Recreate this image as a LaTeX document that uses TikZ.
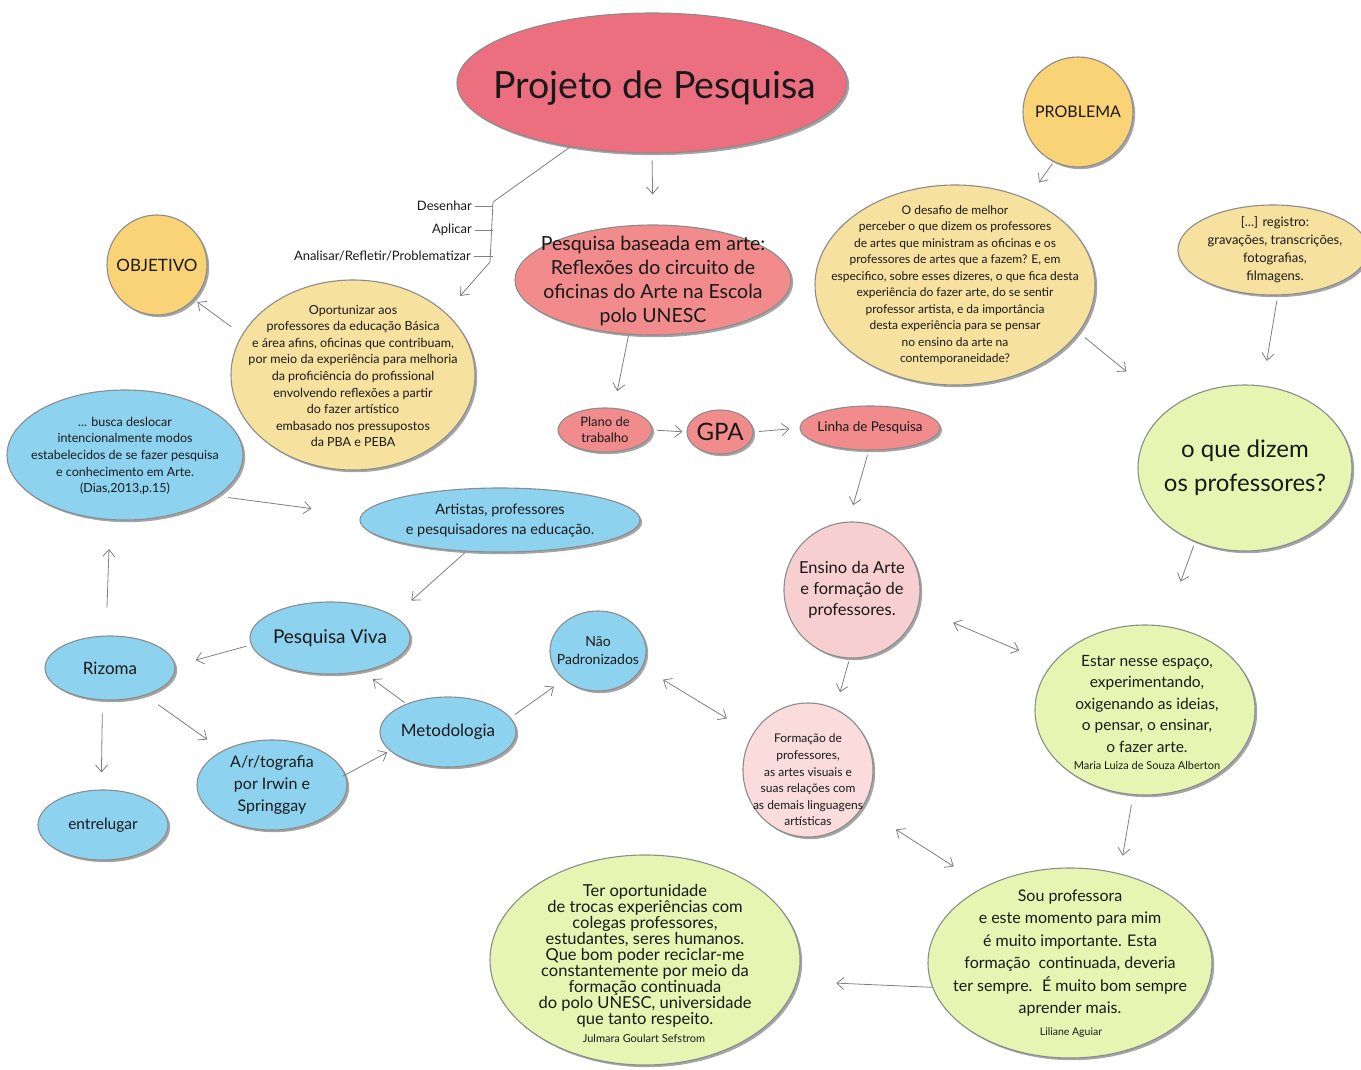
\documentclass[tikz,border=0pt]{standalone}
\usepackage{fontspec}
\setmainfont{Lato}
\usetikzlibrary{arrows.meta,shadows,shapes.geometric}
\definecolor{cProj}{HTML}{EC6F80}
\definecolor{cPink}{HTML}{F28B8C}
\definecolor{cLPink}{HTML}{F8CFD0}
\definecolor{cLLPink}{HTML}{FADCDC}
\definecolor{cYel}{HTML}{F9D376}
\definecolor{cLYel}{HTML}{F7E19F}
\definecolor{cBlue}{HTML}{8DD3F0}
\definecolor{cGreen}{HTML}{E6F6B2}
\newcommand\fsz[2]{\fontsize{#1}{#2}\selectfont}
\begin{document}
\begin{tikzpicture}[x=1pt,y=-1pt,
  bub/.style={ellipse, draw=black!45, line width=1.1pt, inner sep=0pt,
    drop shadow={shadow xshift=2.2pt, shadow yshift=-2.2pt, fill=black!50, opacity=.7}},
  txt/.style={align=center, inner sep=0pt, text=black!90},
  lab/.style={inner sep=0pt, text=black!90, font=\fsz{13}{15}},
  ln/.style={draw=black!50, line width=0.8pt},
  arr/.style={ln, -{Straight Barb[length=7pt,width=12pt]}},
  darr/.style={ln, {Straight Barb[length=7pt,width=12pt]}-{Straight Barb[length=7pt,width=12pt]}}]
\useasboundingbox[fill=white] (0,0) rectangle (1361,1070);

% ---- bubbles
\node[bub, fill=cProj, minimum width=390pt, minimum height=140pt] (proj) at (652,83) {};
\node[txt, font=\fsz{37.5}{40}] (projt) at (655,88) {Projeto de Pesquisa};

\node[bub, fill=cYel, minimum width=110pt, minimum height=110pt] (prob) at (1078,112) {};
\node[txt, font=\fsz{16}{18}] (probt) at (prob) {PROBLEMA};

\node[bub, fill=cLYel, minimum width=280pt, minimum height=200pt] (ptx) at (955,285) {};
\node[txt, font=\fsz{12}{16.5}] (ptxt) at (955,285) {O desafio de melhor\\
perceber o que dizem os professores\\
de artes que ministram as oficinas e os\\
professores de artes que a fazem? E, em\\
especifico, sobre esses dizeres, o que fica desta\\
experiência do fazer arte, do se sentir\\
professor artista, e da importância\\
desta experiência para se pensar\\
no ensino da arte na\\
contemporaneidade?};

\node[bub, fill=cLYel, minimum width=190pt, minimum height=90pt] (reg) at (1273,250) {};
\node[txt, font=\fsz{13}{18}] (regt) at (1275,250) {[...] registro:\\gravações, transcrições,\\fotografias,\\filmagens.};

\node[bub, fill=cYel, minimum width=100pt, minimum height=100pt] (obj) at (157,265) {};
\node[txt, font=\fsz{17}{20}] (objt) at (obj) {OBJETIVO};

\node[bub, fill=cLYel, minimum width=244pt, minimum height=190pt] (opo) at (353,375) {};
\node[txt, font=\fsz{12.5}{16.6}] (opot) at (353,376) {Oportunizar aos\\
professores da educação Básica\\
e área afins, oficinas que contribuam,\\
por meio da experiência para melhoria\\
da proficiência do profissional\\
envolvendo reflexões a partir\\
do fazer artístico\\
embasado nos pressupostos\\
da PBA e PEBA};

\node[bub, fill=cPink, minimum width=276pt, minimum height=110pt] (pba) at (653,280) {};
\node[txt, font=\fsz{19.5}{24}] (pbat) at (653,281) {Pesquisa baseada em arte:\\Reflexões do circuito de\\oficinas do Arte na Escola\\polo UNESC};

\node[bub, fill=cPink, minimum width=94pt, minimum height=44pt] (plano) at (605,430) {};
\node[txt, font=\fsz{13}{16}] (planot) at (plano) {Plano de\\trabalho};

\node[bub, fill=cPink, minimum width=66pt, minimum height=44pt] (gpa) at (720,432) {};
\node[txt, font=\fsz{24}{26}] (gpat) at (gpa) {GPA};

\node[bub, fill=cPink, minimum width=140pt, minimum height=44pt] (linha) at (870,428) {};
\node[txt, font=\fsz{13.5}{16}] (linhat) at (linha) {Linha de Pesquisa};

\node[bub, fill=cGreen, minimum width=214pt, minimum height=166pt] (diz) at (1245,468) {};
\node[txt, font=\fsz{24}{34}] (dizt) at (diz) {o que dizem\\os professores?};

\node[bub, fill=cLPink, minimum width=136pt, minimum height=136pt] (ens) at (852,590) {};
\node[txt, font=\fsz{16.5}{21}] (enst) at (ens) {Ensino da Arte\\e formação de\\professores.};

\node[bub, fill=cBlue, minimum width=236pt, minimum height=130pt] (bus) at (125,455) {};
\node[txt, font=\fsz{12.5}{16.6}] (bust) at (125,456) {... busca deslocar\\intencionalmente modos\\estabelecidos de se fazer pesquisa\\e conhecimento em Arte.\\(Dias,2013,p.15)};

\node[bub, fill=cBlue, minimum width=280pt, minimum height=64pt] (art) at (500,520) {};
\node[txt, font=\fsz{14.5}{20}] (artt) at (500,520) {Artistas, professores\\e pesquisadores na educação.};

\node[bub, fill=cBlue, minimum width=160pt, minimum height=72pt] (viva) at (330,638) {};
\node[txt, font=\fsz{19}{22}] (vivat) at (viva) {Pesquisa Viva};

\node[bub, fill=cBlue, minimum width=130pt, minimum height=64pt] (riz) at (110,668) {};
\node[txt, font=\fsz{17}{20}] (rizt) at (riz) {Rizoma};

\node[bub, fill=cBlue, minimum width=96pt, minimum height=80pt] (nao) at (598,651) {};
\node[txt, font=\fsz{14}{18}] (naot) at (nao) {Não\\Padronizados};

\node[bub, fill=cBlue, minimum width=136pt, minimum height=70pt] (met) at (448,732) {};
\node[txt, font=\fsz{17}{20}] (mett) at (met) {Metodologia};

\node[bub, fill=cBlue, minimum width=150pt, minimum height=90pt] (artog) at (272,785) {};
\node[txt, font=\fsz{16}{22}] (artogt) at (artog) {A/r/tografia\\por Irwin e\\Springgay};

\node[bub, fill=cBlue, minimum width=130pt, minimum height=70pt] (ent) at (103,825) {};
\node[txt, font=\fsz{15.5}{18}] (entt) at (ent) {entrelugar};

\node[bub, fill=cLLPink, minimum width=130pt, minimum height=134pt] (form) at (808,770) {};
\node[txt, font=\fsz{12}{16.6}] (formt) at (808,780) {Formação de\\professores,\\as artes visuais e\\suas relações com\\as demais linguagens\\artísticas};

\node[bub, fill=cGreen, minimum width=220pt, minimum height=170pt] (est) at (1145,710) {};
\node[txt, font=\fsz{15.5}{21.5}] (estt) at (1147,704) {Estar nesse espaço,\\experimentando,\\oxigenando as ideias,\\o pensar, o ensinar,\\o fazer arte.};
\node[txt, font=\fsz{11}{13}] (esta) at (1147,765) {Maria Luiza de Souza Alberton};

\node[bub, fill=cGreen, minimum width=284pt, minimum height=190pt] (sou) at (1070,963) {};
\node[txt, font=\fsz{16}{22.5}] (sout) at (1070,953) {Sou professora\\e este momento para mim\\é muito importante. Esta\\formação \ continuada, deveria\\ter sempre. \ É muito bom sempre\\aprender mais.};
\node[txt, font=\fsz{10.5}{12}] (soua) at (1071,1033) {Liliane Aguiar};

\node[bub, fill=cGreen, minimum width=310pt, minimum height=210pt] (ter) at (645,960) {};
\node[txt, font=\fsz{16.5}{16}] (tert) at (645,956) {Ter oportunidade\\de trocas experiências com\\colegas professores,\\estudantes, seres humanos.\\Que bom poder reciclar-me\\constantemente por meio da\\formação continuada\\do polo UNESC, universidade\\que tanto respeito.};
\node[txt, font=\fsz{11}{13}] (tera) at (644,1038) {Julmara Goulart Sefstrom};

% ---- bracket labels
\node[lab, anchor=east] (des) at (472,206) {Desenhar};
\node[lab, anchor=east] (apl) at (472,230) {Aplicar};
\node[lab, anchor=east] (ana) at (471,256) {Analisar/Refletir/Problematizar};
\coordinate (brtop) at (493,202);
\coordinate (brbot) at (490,262);
\draw[ln] (proj.-142) -- (brtop) -- (brbot);
\draw[ln] ([xshift=3pt]des.east) -- (des.east -| brtop);
\draw[ln] ([xshift=3pt]apl.east) -- (apl.east -| brtop);
\draw[ln] ([xshift=3pt]ana.east) -- (ana.east -| brtop);
\draw[arr, shorten >=22pt] (brbot) -- (opo.34);

% ---- connectors
\draw[arr, shorten <=7pt, shorten >=30pt] (proj.south) -- (pba.north);
\draw[arr, shorten <=2pt, shorten >=20pt] (prob.-116) -- (ptx.50);
\draw[arr, shorten <=8pt, shorten >=57pt] (ptx.-21) -- (diz.141);
\draw[arr, shorten <=5pt, shorten >=25pt] (reg.-84) -- (diz.78);
\draw[arr, shorten <=13pt, shorten >=4pt] (opo.160) -- (obj.-43);
\draw[arr, shorten <=1pt, shorten >=17pt] (pba.-114) -- (plano.68);
\draw[arr, shorten <=4pt, shorten >=4pt] (plano.east) -- (gpa.west);
\draw[arr, shorten <=5pt, shorten >=10pt] (gpa.east) -- (linha.west);
\draw[arr, shorten <=5pt, shorten >=17pt] (linha.-93) -- (ens.93);
\draw[arr, shorten <=4pt, shorten >=47pt] (diz.-124) -- (est.77);
\draw[darr, shorten <=38pt, shorten >=35pt] (ens.-15) -- (est.154);
\draw[arr, shorten <=3pt, shorten >=17pt] (ens.-92) -- (form.66);
\draw[arr, shorten <=10pt, shorten >=18pt] (est.-98) -- (sou.61);
\draw[darr, shorten <=40pt, shorten >=37pt] (form.-35) -- (sou.138);
\draw[arr, shorten <=0pt, shorten >=39pt] (sou.-170) -- (ter.-8);
\draw[arr, shorten <=11pt, shorten >=50pt] (bus.-24) -- (art.178);
\draw[arr, shorten <=2pt, shorten >=23pt] (art.-137) -- (viva.19);
\draw[arr, shorten <=5pt, shorten >=21pt] (viva.-175) -- (riz.2);
\draw[arr, shorten <=28pt, shorten >=29pt] (riz.97) -- (bus.-103);
\draw[arr, shorten <=13pt, shorten >=17pt] (riz.-103) -- (ent.93);
\draw[arr, shorten <=16pt, shorten >=19pt] (riz.-38) -- (artog.145);
\draw[arr, shorten <=-3pt, shorten >=3pt] (artog.8) -- (met.-162);
\draw[arr, shorten <=2pt, shorten >=13pt] (met.146) -- (viva.-46);
\draw[arr, shorten <=5pt, shorten >=12pt] (met.13) -- (nao.-140);
\draw[darr, shorten <=24pt, shorten >=30pt] (nao.-20) -- (form.147);
\end{tikzpicture}
\end{document}
